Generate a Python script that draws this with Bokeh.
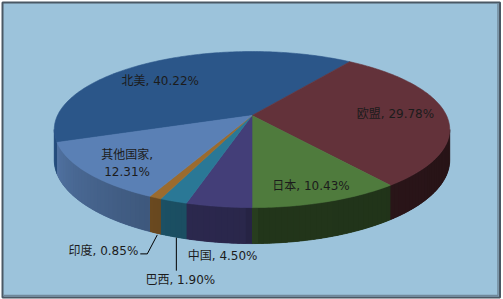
import numpy as np
from bokeh.plotting import figure
from bokeh.models import Range1d
from bokeh.embed import file_html
from bokeh.resources import INLINE
from bokeh.core.properties import value

# ---------------- data ----------------
regions = ["北美", "欧盟", "日本", "中国", "巴西", "印度", "其他国家"]
shares = [40.22, 29.78, 10.43, 4.50, 1.90, 0.85, 12.31]
top_colors = ["#2b5689", "#63323a", "#4f7b3d", "#433e78", "#2a7896", "#9b6b2e", "#5a80b5"]

# ---------------- style / geometry ----------------
W, H = 503, 299
CX, CY = 251.5, 115.0      # projected pie apex
A, B = 194.5, 75.5         # horizontal / depth radii
K = 0.18                   # perspective strength
D = 29.5                   # thickness
FONT = value("DejaVu Sans, Noto Sans CJK SC")

def proj(theta_deg, r=1.0, h=0.0):
    t = np.radians(theta_deg)
    X = r * np.sin(t)
    Z = r * np.cos(t)
    den = 1 + K * Z
    return CX + A * X / den, CY - B * Z / den + h / den

def shade(hexcol, f):
    h = hexcol.lstrip("#")
    rgb = [int(h[i:i + 2], 16) for i in (0, 2, 4)]
    return "#%02x%02x%02x" % tuple(int(max(0, min(255, c * f))) for c in rgb)

LIGHT_ANG = [100, 178, 182, 200, 215, 240, 260]
LIGHT_VAL = [0.40, 0.44, 0.63, 0.66, 0.73, 0.84, 0.95]

vals = np.array(shares, dtype=float)
total = vals.sum()
spans = 360.0 * vals / total
# 中国 slice begins at 6 o'clock, slices run clockwise
start = 180.0 - spans[:3].sum()
bounds = start + np.concatenate([[0], np.cumsum(spans)])

p = figure(width=W, height=H, x_range=Range1d(0, W), y_range=Range1d(H, 0),
           output_backend="svg", toolbar_location=None, min_border=0,
           x_axis_type=None, y_axis_type=None)
p.grid.visible = False
p.outline_line_color = None
p.background_fill_color = "white"
p.border_fill_color = "white"

# chart frame
p.quad(left=2, right=499.5, top=2, bottom=297, fill_color="#9cc3db",
       line_color="#4a5864", line_width=2)
p.line(x=[3, 497.5, 497.5], y=[295, 295, 3], line_color="#70889a", line_width=1.5)

# ---------------- side walls ----------------
vis0 = np.degrees(np.arccos(-K))
vis1 = 360 - vis0
ux, uy, uc = [], [], []          # one underlay polygon per slice wall
sx_list, sy_list, sc_list = [], [], []
for i in range(len(vals)):
    a0, a1 = bounds[i] % 360, bounds[i] % 360 + spans[i]
    for off in (0, -360, 360):
        lo, hi = max(a0 + off, vis0), min(a1 + off, vis1)
        if hi <= lo:
            continue
        ts = np.linspace(lo, hi, max(2, int(np.ceil(hi - lo)) + 1))
        tx, ty = proj(ts)
        bx, by = proj(ts[::-1], h=D)
        ux.append(list(tx) + list(bx))
        uy.append(list(ty) + list(by))
        uc.append(shade(top_colors[i], np.interp(0.5 * (lo + hi), LIGHT_ANG, LIGHT_VAL)))
        n = max(1, int(np.ceil((hi - lo) / 1.5)))
        es = np.linspace(lo, hi, n + 1)
        for j in range(n):
            t0, t1 = es[j], min(es[j + 1] + 0.8, hi)
            seg = np.linspace(t0, t1, 3)
            x0, y0 = proj(seg)
            x1, y1 = proj(seg[::-1], h=D)
            sx_list.append(list(x0) + list(x1))
            sy_list.append(list(y0) + list(y1))
            f = np.interp(0.5 * (es[j] + es[j + 1]), LIGHT_ANG, LIGHT_VAL)
            sc_list.append(shade(top_colors[i], f))
p.patches(xs=ux, ys=uy, fill_color=uc, line_color=uc, line_width=0.8)
p.patches(xs=sx_list, ys=sy_list, fill_color=sc_list, line_color=None)

# ---------------- top faces ----------------
txs, tys = [], []
for i in range(len(vals)):
    ts = np.linspace(bounds[i], bounds[i + 1], max(2, int(spans[i]) + 2))
    ex, ey = proj(ts)
    txs.append([CX] + list(ex))
    tys.append([CY] + list(ey))
p.patches(xs=txs, ys=tys, fill_color=top_colors, line_color=top_colors, line_width=0.6)

# ---------------- labels ----------------
mids = 0.5 * (bounds[:-1] + bounds[1:])
labels = [f"{n}, {v:.2f}%" for n, v in zip(regions, shares)]
labels[6] = f"{regions[6]},\n{shares[6]:.2f}%"

inside = {0: (0.70, -17, 4), 1: (0.75, -2, 0), 2: (0.80, 1, 4), 6: (0.78, 0, 5)}
cx_in, cy_in, t_in = [], [], []
for i, (r, dx, dy) in inside.items():
    x, y = proj(mids[i], r=r)
    cx_in.append(x + dx)
    cy_in.append(y + dy)
    t_in.append(labels[i])
p.text(x=cx_in, y=cy_in, text=t_in, text_align="center", text_baseline="middle",
       text_font=FONT, text_font_size="12px", text_color="#1c1c1c")

# outside labels (中国, 巴西, 印度) anchored at the rim bottom
rim = {i: proj(mids[i], h=D) for i in (3, 4, 5)}
# 中国
x, y = rim[3]
p.text(x=[x + 4], y=[y + 14], text=[labels[3]], text_align="center", text_baseline="middle",
       text_font=FONT, text_font_size="12px", text_color="#1c1c1c")
# 巴西 with vertical leader
x, y = rim[4]
p.line(x=[x + 3, x + 3], y=[y + 1, y + 34], line_color="black", line_width=1)
p.text(x=[x + 7], y=[y + 43], text=[labels[4]], text_align="center", text_baseline="middle",
       text_font=FONT, text_font_size="12px", text_color="#1c1c1c")
# 印度 with bent leader
x, y = rim[5]
p.line(x=[x + 2, x - 8, x - 15], y=[y + 2, y + 21, y + 21], line_color="black", line_width=1)
p.text(x=[x - 17], y=[y + 18], text=[labels[5]], text_align="right", text_baseline="middle",
       text_font=FONT, text_font_size="12px", text_color="#1c1c1c")

open("out.html", "w").write(file_html(p, INLINE))
